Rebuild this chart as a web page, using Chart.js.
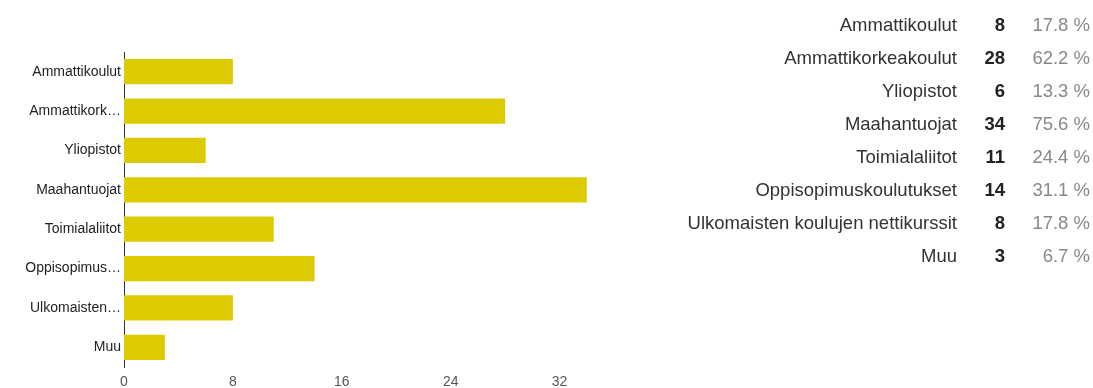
<!DOCTYPE html>
<html>
<head>
<meta charset="utf-8">
<script src="https://cdn.jsdelivr.net/npm/chart.js@4"></script>
<style>
  html, body { margin: 0; padding: 0; background: #fff; }
  body { width: 1093px; height: 388px; position: relative; overflow: hidden; font-family: Arial, "Liberation Sans", sans-serif; }
  #chart-wrap { position: absolute; left: 0; top: 0; width: 680px; height: 388px; }
  #summary { position: absolute; left: 640px; top: 8px; border-collapse: collapse; font-size: 18.5px; }
  #summary td { padding: 0; height: 33px; line-height: 33px; text-align: right; white-space: nowrap; }
  #summary td.name { width: 317px; color: #333; }
  #summary td.count { width: 48px; color: #222; font-weight: bold; }
  #summary td.pct { width: 85px; color: #888; }
</style>
</head>
<body>
<div id="chart-wrap"><canvas id="barChart"></canvas></div>
<table id="summary"><tbody></tbody></table>
<script>
const categories = ['Ammattikoulut', 'Ammattikorkeakoulut', 'Yliopistot', 'Maahantuojat', 'Toimialaliitot', 'Oppisopimuskoulutukset', 'Ulkomaisten koulujen nettikurssit', 'Muu'];
const axisLabels = ['Ammattikoulut', 'Ammattikork…', 'Yliopistot', 'Maahantuojat', 'Toimialaliitot', 'Oppisopimus…', 'Ulkomaisten…', 'Muu'];
const counts = [8, 28, 6, 34, 11, 14, 8, 3];
const percents = ['17.8 %', '62.2 %', '13.3 %', '75.6 %', '24.4 %', '31.1 %', '17.8 %', '6.7 %'];
const xTicks = [0, 8, 16, 24, 32];

// summary table on the right
const tbody = document.querySelector('#summary tbody');
categories.forEach((c, i) => {
  const tr = document.createElement('tr');
  tr.innerHTML = `
    <td class="name">${c}</td>
    <td class="count">${counts[i]}</td>
    <td class="pct">${percents[i]}</td>
  `;
  tbody.appendChild(tr);
});

const ctx = document.getElementById('barChart');
new Chart(ctx, {
  type: 'bar',
  data: {
    labels: axisLabels,
    datasets: [
      { data: counts, backgroundColor: '#dccb00', barPercentage: 0.64, categoryPercentage: 1 }
    ]
  },
  options: {
    indexAxis: 'y',
    responsive: true,
    maintainAspectRatio: false,
    animation: false,
    layout: { padding: { top: 52, right: 66, left: 0, bottom: 0 } },
    plugins: { legend: { display: false }, tooltip: { enabled: false } },
    scales: {
      x: {
        min: 0,
        max: 36,
        grid: { display: false, drawTicks: false },
        border: { display: false },
        afterBuildTicks: s => { s.ticks = xTicks.map(v => ({ value: v })); },
        afterFit: s => { s.height = 21; },
        ticks: { padding: 7, color: '#555', font: { family: 'Arial', size: 14 } }
      },
      y: {
        grid: { display: false, drawTicks: false },
        border: { display: true, color: '#333', width: 1 },
        afterFit: s => { s.width = 124; },
        ticks: { padding: 3, color: '#222', font: { family: 'Arial', size: 14 } }
      }
    }
  }
});
</script>
</body>
</html>
